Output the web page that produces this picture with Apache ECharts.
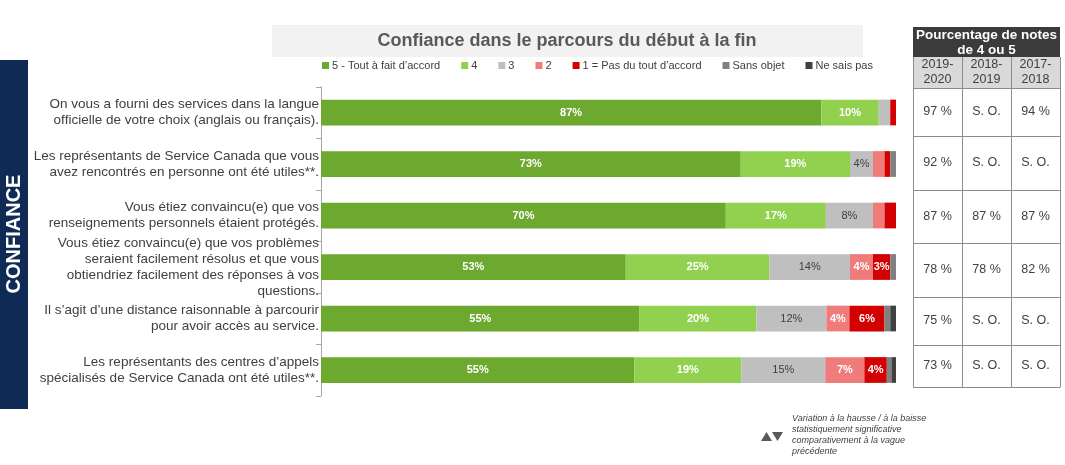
<!DOCTYPE html>
<html><head><meta charset="utf-8">
<script src="https://cdn.jsdelivr.net/npm/echarts@6/dist/echarts.min.js"></script>
<style>html,body{margin:0;padding:0;background:#fff}#c{width:1065px;height:465px}</style>
</head><body><div id="c"></div>
<script>
const categories = [
  'On vous a fourni des services dans la langue\nofficielle de votre choix (anglais ou français).',
  'Les représentants de Service Canada que vous\navez rencontrés en personne ont été utiles**.',
  'Vous étiez convaincu(e) que vos\nrenseignements personnels étaient protégés.',
  'Vous étiez convaincu(e) que vos problèmes\nseraient facilement résolus et que vous\nobtiendriez facilement des réponses à vos\nquestions.',
  'Il s’agit d’une distance raisonnable à parcourir\npour avoir accès au service.',
  'Les représentants des centres d’appels\nspécialisés de Service Canada ont été utiles**.'
];
const seriesNames = ['5 - Tout à fait d’accord', '4', '3', '2', '1 = Pas du tout d’accord', 'Sans objet', 'Ne sais pas'];
const s5 = [87, 73, 70.4, 53, 55.4, 54.5];
const s4 = [10, 19, 17.4, 25, 20.3, 18.6];
const s3 = [2, 4, 8.2, 14, 12.2, 14.6];
const s2 = [0, 2, 2, 4, 4, 6.8];
const s1 = [1, 1, 2, 3, 6.1, 3.9];
const sansObjet = [0, 1, 0, 1, 1, 0.8];
const neSaisPas = [0, 0, 0, 0, 1, 0.8];

const tableTitle = 'Pourcentage de notes\nde 4 ou 5';
const tableYears = ['2019-\n2020', '2018-\n2019', '2017-\n2018'];
const col2019 = ['97 %', '92 %', '87 %', '78 %', '75 %', '73 %'];
const col2018 = ['S. O.', 'S. O.', '87 %', '78 %', 'S. O.', 'S. O.'];
const col2017 = ['94 %', 'S. O.', '87 %', '82 %', 'S. O.', 'S. O.'];
const sideLabel = 'CONFIANCE';
const chartTitle = 'Confiance dans le parcours du début à la fin';
const noteText = 'Variation à la hausse / à la baisse\nstatistiquement significative\ncomparativement à la vague\nprécédente';

const colors = ['#6da82f', '#92d050', '#bfbfbf', '#ef7b7b', '#d20000', '#808080', '#404040'];
const labelColors = ['#fff', '#fff', '#404040', '#fff', '#fff', '#fff', '#fff'];
const labelWeights = ['bold', 'bold', 'normal', 'bold', 'bold', 'bold', 'bold'];
const allData = [s5, s4, s3, s2, s1, sansObjet, neSaisPas];
const FONT = 'Liberation Sans, Arial, sans-serif';

const series = allData.map((d, i) => ({
  name: seriesNames[i],
  type: 'bar',
  stack: 'total',
  barCategoryGap: '50%',
  itemStyle: { color: colors[i] },
  label: {
    show: true,
    position: 'inside',
    fontFamily: FONT,
    fontSize: 11,
    fontWeight: labelWeights[i],
    color: labelColors[i],
    formatter: p => p.value >= 3 ? Math.round(p.value) + '%' : ''
  },
  emphasis: { disabled: true },
  data: d
}));

const graphic = [];
graphic.push({ type: 'rect', shape: { x: 0, y: 60, width: 28, height: 349 }, style: { fill: '#0e2a55' } });
graphic.push({ type: 'text', x: 14, y: 234, rotation: Math.PI / 2,
  style: { text: sideLabel, fill: '#fff', font: 'bold 20px ' + FONT, align: 'center', verticalAlign: 'middle' } });
graphic.push({ type: 'rect', shape: { x: 272, y: 25, width: 591, height: 32 }, style: { fill: '#f2f2f2' } });
graphic.push({ type: 'text', x: 567, y: 41,
  style: { text: chartTitle, fill: '#595959', font: 'bold 18px ' + FONT, align: 'center', verticalAlign: 'middle' } });

const tx = [913, 962, 1011, 1060];
const rowY = [88, 136, 190, 243, 297, 345, 387];
graphic.push({ type: 'rect', shape: { x: 913, y: 27, width: 147, height: 30 }, style: { fill: '#3b3b3b' } });
graphic.push({ type: 'text', x: 986.5, y: 42.5,
  style: { text: tableTitle, fill: '#fff', font: 'bold 13.5px ' + FONT, align: 'center', verticalAlign: 'middle', lineHeight: 15 } });
graphic.push({ type: 'rect', shape: { x: 913, y: 57, width: 147, height: 31 }, style: { fill: '#d9d9d9' } });
tableYears.forEach((t, i) => {
  graphic.push({ type: 'text', x: (tx[i] + tx[i + 1]) / 2, y: 72.5,
    style: { text: t, fill: '#404040', font: '12.5px ' + FONT, align: 'center', verticalAlign: 'middle', lineHeight: 15 } });
});
const cols = [col2019, col2018, col2017];
cols.forEach((col, c) => {
  col.forEach((v, r) => {
    graphic.push({ type: 'text', x: (tx[c] + tx[c + 1]) / 2, y: (rowY[r] + rowY[r + 1]) / 2,
      style: { text: v, fill: '#404040', font: '12.5px ' + FONT, align: 'center', verticalAlign: 'middle' } });
  });
});
const lineStyle = { stroke: '#8c8c8c', lineWidth: 1 };
tx.forEach(x => {
  graphic.push({ type: 'line', shape: { x1: x + 0.5, y1: 57, x2: x + 0.5, y2: 387 }, style: lineStyle });
});
rowY.forEach(y => {
  graphic.push({ type: 'line', shape: { x1: 913, y1: y + 0.5, x2: 1060.5, y2: y + 0.5 }, style: lineStyle });
});
graphic.push({ type: 'polygon', shape: { points: [[761, 441], [766.5, 432], [772, 441]] }, style: { fill: '#595959' } });
graphic.push({ type: 'polygon', shape: { points: [[772, 432], [783, 432], [777.5, 441]] }, style: { fill: '#595959' } });
graphic.push({ type: 'text', x: 792, y: 413,
  style: { text: noteText, fill: '#404040', font: 'italic 9px ' + FONT, lineHeight: 11 } });

const chart = echarts.init(document.getElementById('c'), null, { renderer: 'canvas' });
chart.setOption({
  animation: false,
  color: colors,
  textStyle: { fontFamily: FONT },
  legend: {
    top: 55, left: 317,
    icon: 'rect', itemWidth: 7, itemHeight: 7, itemGap: 21,
    textStyle: { fontSize: 11, color: '#404040', fontFamily: FONT, padding: [0, 0, 0, -2] },
    data: seriesNames
  },
  grid: { left: 321, right: 169, top: 86.75, bottom: 69.25, containLabel: false },
  xAxis: { type: 'value', min: 0, max: 100, show: false },
  yAxis: {
    type: 'category', inverse: true, data: categories,
    axisLine: { lineStyle: { color: '#a6a6a6' } },
    axisTick: { show: true, length: 5, lineStyle: { color: '#a6a6a6' } },
    axisLabel: { fontSize: 13.5, color: '#404040', lineHeight: 16, margin: 2, align: 'right', fontFamily: FONT }
  },
  series: series,
  graphic: graphic
});
</script></body></html>
